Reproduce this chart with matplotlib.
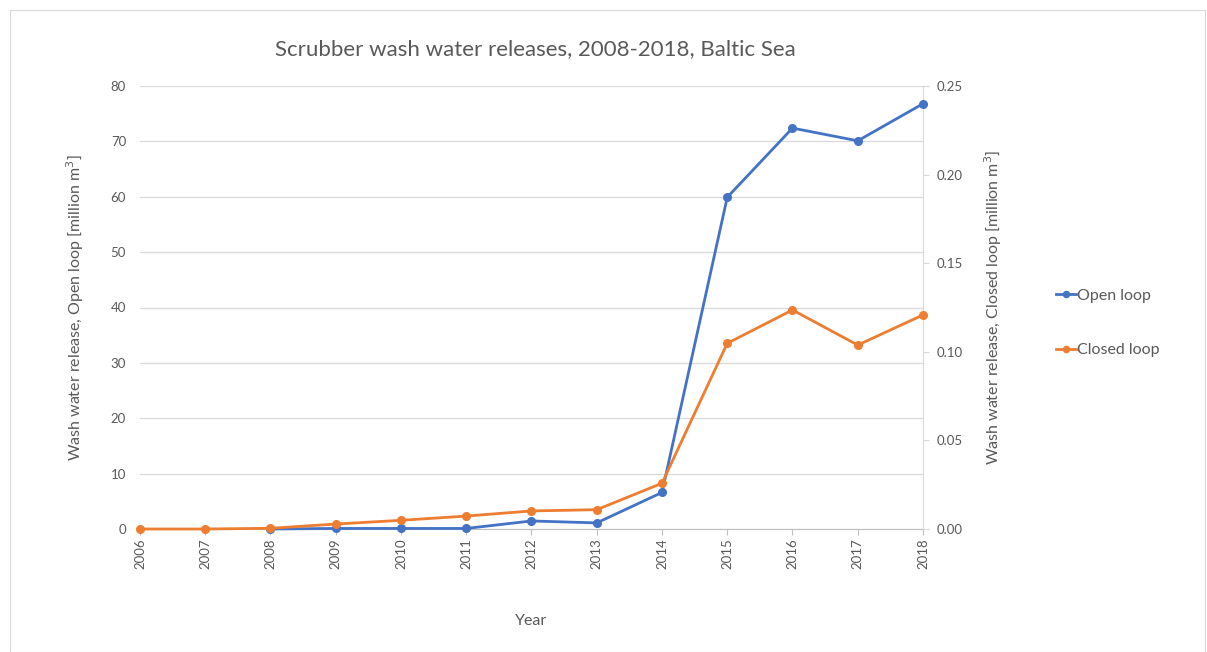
import matplotlib
matplotlib.use("Agg")
import matplotlib.pyplot as plt
from matplotlib.patches import Rectangle

plt.rcParams['font.family'] = ['Lato', 'DejaVu Sans']

years_open = [2008, 2009, 2010, 2011, 2012, 2013, 2014, 2015, 2016, 2017, 2018]
open_loop = [0.0, 0.1, 0.1, 0.1, 1.45, 1.1, 6.6, 59.9, 72.4, 70.1, 76.8]

years_closed = [2006, 2007, 2008, 2009, 2010, 2011, 2012, 2013, 2014, 2015, 2016, 2017, 2018]
closed_loop = [0.0, 0.0, 0.0004, 0.0028, 0.0049, 0.0073, 0.0102, 0.0109, 0.0258,
               0.1048, 0.1236, 0.1038, 0.1208]

year_ticks = list(range(2006, 2019))
left_ticks = [0, 10, 20, 30, 40, 50, 60, 70, 80]
right_ticks = [0.00, 0.05, 0.10, 0.15, 0.20, 0.25]

blue = '#4472C4'
orange = '#ED7D31'
txt = '#595959'
grid = '#D9D9D9'

fig = plt.figure(figsize=(12.07, 6.52), dpi=100)
fig.patches.append(Rectangle((10/1207, 0), 1195/1207, 1 - 10/652, transform=fig.transFigure,
                             fill=False, edgecolor='#D9D9D9', linewidth=0.8))
ax = fig.add_axes([140/1207, 1 - 529/652, (923-140)/1207, (529-86)/652])
ax2 = ax.twinx()

ax.set_xlim(2006, 2018)
ax.set_ylim(0, 80)
ax2.set_ylim(0, 0.25)

# open loop drawn in ax2's layer (on the left-axis scale) so markers sit above the right spine
ax2.plot(years_open, open_loop, color=blue, lw=2, marker='o', ms=5.5, zorder=3,
         clip_on=False, transform=ax.transData, label='Open loop')
ax2.plot(years_closed, closed_loop, color=orange, lw=2, marker='o', ms=5.5, zorder=3,
         clip_on=False, label='Closed loop')
ax2.set_ylim(0, 0.25)

ax.set_yticks(left_ticks)
ax2.set_yticks(right_ticks)
ax2.set_yticklabels([f"{v:.2f}" for v in right_ticks])
ax.set_xticks(year_ticks)
ax.set_xticklabels([str(y) for y in year_ticks], rotation=90)

ax.grid(axis='y', color=grid, lw=0.9)
ax.set_axisbelow(True)
for a in (ax, ax2):
    for s in ('top', 'left'):
        a.spines[s].set_visible(False)
    a.spines['right'].set_visible(False)
    a.spines['bottom'].set_color('#BFBFBF')
ax2.spines['right'].set_visible(True)
ax2.spines['right'].set_color('#D9D9D9')
ax2.spines['bottom'].set_visible(False)

ax.tick_params(axis='y', length=0, labelsize=9.5, labelcolor=txt, pad=10)
ax.tick_params(axis='x', length=4, color='#BFBFBF', labelsize=9.5, labelcolor=txt, pad=3)
ax2.tick_params(axis='y', length=4, color='#D9D9D9', labelsize=9.5, labelcolor=txt, pad=6)

ax.set_ylabel('Wash water release, Open loop [million m$^3$]', fontsize=11.5, color=txt, labelpad=18)
ax2.set_ylabel('Wash water release, Closed loop [million m$^3$]', fontsize=11.5, color=txt, labelpad=14)
ax.set_xlabel('Year', fontsize=11.5, color=txt, labelpad=32)
fig.text(535/1207, 1 - 49/652, 'Scrubber wash water releases, 2008-2018, Baltic Sea',
         ha='center', va='center', fontsize=16, color=txt)

h2, l2 = ax2.get_legend_handles_labels()
fig.legend(h2, l2, loc='center left', bbox_to_anchor=(1042/1207, 1 - 323/652),
           frameon=False, fontsize=11.5, labelcolor=txt, handlelength=1.2, handletextpad=0.1,
           labelspacing=2.5, markerscale=0.8)

fig.savefig('out.png', dpi=100)
